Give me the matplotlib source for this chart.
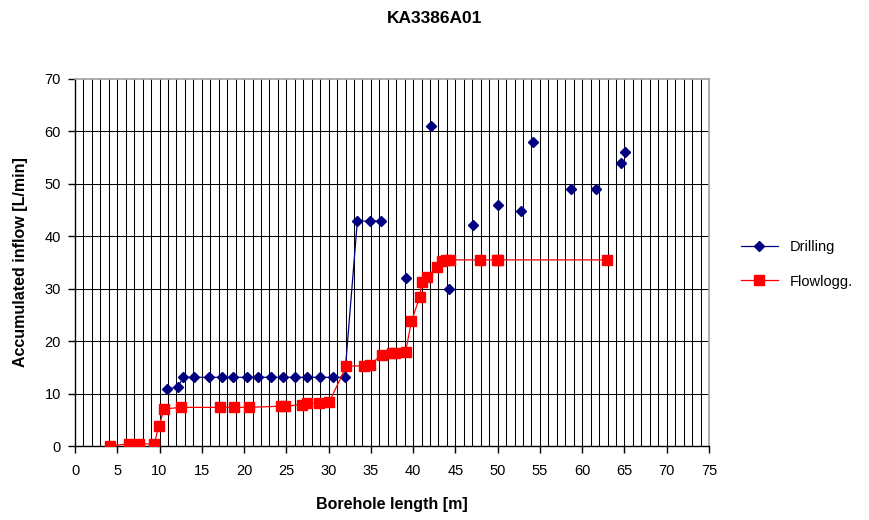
import numpy as np
import matplotlib
matplotlib.use("Agg")
import matplotlib.pyplot as plt
from matplotlib.ticker import MultipleLocator

plt.rcParams["font.family"] = ["Liberation Sans", "DejaVu Sans"]

# Drilling: first points form a connected line, the rest are isolated readings
drill_x = [10.85, 12.2, 12.8, 14.07, 15.8, 17.4, 18.7, 20.35, 21.7, 23.2, 24.6, 26.0,
           27.5, 29.0, 30.5, 31.9, 33.4, 34.9, 36.2,
           39.2, 42.1, 44.2, 47.1, 50.0, 52.8, 54.2, 58.7, 61.6, 64.55, 65.1]
drill_y = [10.8, 11.3, 13.1, 13.1, 13.1, 13.1, 13.1, 13.1, 13.1, 13.1, 13.1, 13.1,
           13.1, 13.1, 13.1, 13.1, 42.9, 42.9, 42.9,
           32.0, 61.0, 30.0, 42.1, 46.0, 44.8, 58.0, 49.0, 49.0, 54.0, 56.0]
drill_connected = 19

flow_x = [4.14, 6.39, 7.6, 9.38, 9.9, 10.57, 12.5, 17.15, 18.85, 20.6, 24.4, 24.9,
          26.9, 27.5, 28.9, 30.1, 32.1, 34.2, 34.9, 36.3, 37.5, 37.9, 39.1, 39.8,
          40.8, 41.0, 41.6, 42.8, 43.4, 43.85, 44.4, 47.9, 49.9, 50.0, 62.9]
flow_y = [0.06, 0.4, 0.4, 0.4, 3.75, 7.06, 7.37, 7.37, 7.37, 7.37, 7.6, 7.6,
          7.9, 8.2, 8.2, 8.45, 15.26, 15.26, 15.5, 17.4, 17.7, 17.7, 17.9, 23.8,
          28.5, 31.3, 32.2, 34.1, 35.3, 35.5, 35.5, 35.5, 35.5, 35.5, 35.5]

NAVY = "#000080"
RED = "#FF0000"

fig = plt.figure(figsize=(8.69, 5.2), dpi=100)
ax = fig.add_axes([75 / 869, 1 - 446 / 520, (709 - 75) / 869, (446 - 79) / 520])

ax.set_xlim(0, 75)
ax.set_ylim(0, 70)

# grid: every metre vertically, every 10 L/min horizontally
for gx in range(1, 75):
    ax.axvline(gx, color="black", lw=0.75, zorder=0)
for gy in range(10, 70, 10):
    ax.axhline(gy, color="black", lw=0.75, zorder=0)

ax.plot(drill_x[:drill_connected], drill_y[:drill_connected], "-", color=NAVY, lw=0.9,
        marker="D", ms=5.5, mfc=NAVY, mec=NAVY, zorder=3, label="Drilling")
ax.plot(drill_x[drill_connected:], drill_y[drill_connected:], "D", color=NAVY, ms=5.5,
        zorder=3)
ax.plot(flow_x, flow_y, "-", color=RED, lw=0.9, marker="s", ms=6.5, mfc=RED, mec=RED,
        zorder=4, label="Flowlogg.")

ax.xaxis.set_major_locator(MultipleLocator(5))
ax.yaxis.set_major_locator(MultipleLocator(10))
ax.tick_params(direction="out", length=5, width=1, labelsize=10.5, colors="black")
ax.tick_params(axis="x", pad=8)
ax.tick_params(axis="y", pad=5)

for side in ("top", "right"):
    ax.spines[side].set_color("#a0a0a0")
    ax.spines[side].set_linewidth(1.2)
for side in ("left", "bottom"):
    ax.spines[side].set_color("black")
    ax.spines[side].set_linewidth(1.0)

ax.set_xlabel("Borehole length [m]", fontsize=11.5, fontweight="bold", labelpad=14)
ax.set_ylabel("Accumulated inflow [L/min]", fontsize=11.5, fontweight="bold", labelpad=12)
fig.suptitle("KA3386A01", x=0.5, y=1 - 11 / 520, va="top",
             fontsize=12.5, fontweight="bold")

ax.legend(loc="center left", bbox_to_anchor=(1.03, 0.495), frameon=False, fontsize=10.5,
          handlelength=2.5, labelspacing=1.4)

fig.savefig("out.png", dpi=100)
